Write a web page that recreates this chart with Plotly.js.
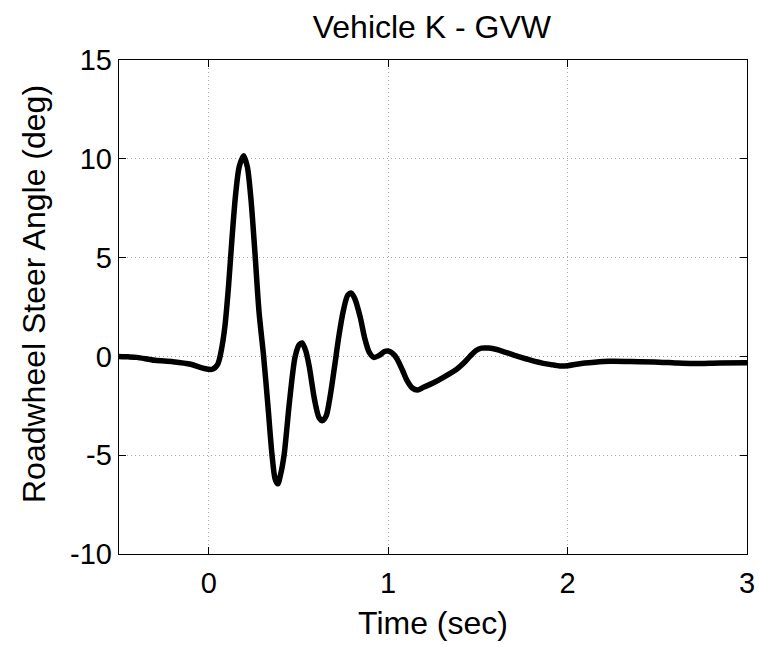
<!DOCTYPE html>
<html>
<head>
<meta charset="utf-8">
<script src="https://cdn.plot.ly/plotly-3.0.1.min.js"></script>
<style>html,body{margin:0;padding:0;background:#fff;}#chart{width:759px;height:647px;}</style>
</head>
<body>
<div id="chart"></div>
<script>
const chartTitle = "Vehicle K - GVW";
const xTitle = "Time (sec)";
const yTitle = "Roadwheel Steer Angle (deg)";
const xTicks = [0, 1, 2, 3];
const yTicks = [-10, -5, 0, 5, 10, 15];

const timeSec = [-0.5, -0.45, -0.4, -0.3, -0.2, -0.1, -0.03, 0.02, 0.05, 0.07, 0.09, 0.11, 0.13, 0.15, 0.17, 0.195,
  0.215, 0.235, 0.258, 0.28, 0.306, 0.33, 0.353, 0.37, 0.385, 0.40, 0.42, 0.45, 0.482, 0.505, 0.52,
  0.54, 0.56, 0.59, 0.615, 0.635, 0.655, 0.677, 0.70, 0.725, 0.75, 0.775, 0.795, 0.815, 0.844, 0.87,
  0.895, 0.92, 0.95, 0.98, 1.0, 1.025, 1.048, 1.08, 1.104, 1.135, 1.163, 1.2, 1.25, 1.308, 1.382,
  1.42, 1.456, 1.49, 1.521, 1.56, 1.605, 1.65, 1.697, 1.75, 1.79, 1.865, 1.91, 1.957, 2.0, 2.06,
  2.15, 2.235, 2.35, 2.51, 2.6, 2.70, 2.85, 3.0];
const steerDeg = [0.0, -0.02, -0.05, -0.2, -0.27, -0.4, -0.6, -0.65, -0.4, 0.3, 1.5, 3.5, 6.0, 8.2, 9.6, 10.15,
  9.6, 8.0, 5.2, 2.3, 0.0, -2.5, -5.0, -6.2, -6.45, -6.0, -5.0, -2.3, 0.0, 0.6, 0.68,
  0.3, -0.5, -2.2, -3.1, -3.25, -3.0, -2.0, -0.6, 1.0, 2.3, 3.1, 3.2, 2.9, 2.0, 0.9,
  0.2, -0.05, 0.05, 0.25, 0.27, 0.15, -0.1, -0.7, -1.2, -1.6, -1.7, -1.55, -1.35, -1.06, -0.65,
  -0.35, 0.0, 0.3, 0.42, 0.42, 0.35, 0.22, 0.08, -0.08, -0.18, -0.35, -0.42, -0.48, -0.47, -0.38,
  -0.3, -0.25, -0.26, -0.29, -0.33, -0.36, -0.33, -0.32];

const font = "Liberation Sans, Arial, Helvetica, sans-serif";

const trace = {
  x: timeSec, y: steerDeg, type: 'scatter', mode: 'lines',
  line: {color: '#000', width: 5.5, shape: 'spline', smoothing: 0.8},
  hoverinfo: 'skip'
};

const axisCommon = {
  showline: true, linecolor: '#000', linewidth: 1.3, mirror: 'ticks',
  ticks: 'inside', ticklen: 7, tickwidth: 1, tickcolor: '#000',
  showgrid: true, gridcolor: '#a8a8a8', griddash: '1px,3px', gridwidth: 1,
  zeroline: false, tickfont: {family: font, size: 29, color: '#000'}
};

const layout = {
  width: 759, height: 647,
  paper_bgcolor: '#fff', plot_bgcolor: '#fff',
  margin: {l: 119, r: 12, t: 60, b: 93},
  showlegend: false,
  font: {family: font, color: '#000'},
  title: {text: chartTitle, font: {family: font, size: 32, color: '#000'}, x: 0.569, xanchor: 'center', y: 0.958, yanchor: 'middle'},
  xaxis: Object.assign({}, axisCommon, {
    range: [-0.5, 3], tickvals: xTicks, ticktext: xTicks.map(String), ticklabelstandoff: 3,
    title: {text: xTitle, font: {family: font, size: 32, color: '#000'}, standoff: 13}
  }),
  yaxis: Object.assign({}, axisCommon, {
    range: [-10, 15], tickvals: yTicks, ticktext: yTicks.map(String)
  }),
  annotations: [{
    text: yTitle, textangle: -90, showarrow: false,
    xref: 'paper', yref: 'paper', x: (34 - 119) / 628, y: (554 - 294) / 494,
    xanchor: 'center', yanchor: 'middle',
    font: {family: font, size: 32, color: '#000'}
  }]
};

Plotly.newPlot('chart', [trace], layout, {displayModeBar: false, staticPlot: true});
</script>
</body>
</html>
